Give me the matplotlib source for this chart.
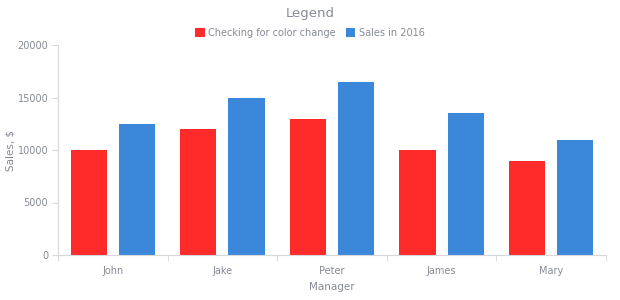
import matplotlib.pyplot as plt
import numpy as np

managers = ["John", "Jake", "Peter", "James", "Mary"]
checking = [10000, 12000, 13000, 10000, 9000]
sales_2016 = [12500, 15000, 16500, 13500, 11000]
series_names = ["Checking for color change", "Sales in 2016"]

red = "#ff2a2a"
blue = "#3b87d9"
text_col = "#868a96"
line_col = "#d6d8dc"

plt.rcParams["font.family"] = ["DejaVu Sans"]

fig = plt.figure(figsize=(6.2, 3.0), dpi=100)
ax = fig.add_axes([0.0935, 0.15, 0.884, 0.70])

x = np.arange(len(managers))
w = 0.33
ax.bar(x - 0.22, checking, w, color=red, label=series_names[0], zorder=2)
ax.bar(x + 0.22, sales_2016, w, color=blue, label=series_names[1], zorder=2)

ax.set_xlim(-0.5, len(managers) - 0.5)
ax.set_ylim(0, 20000)
ax.set_yticks([0, 5000, 10000, 15000, 20000])
ax.set_xticks(x)
ax.set_xticklabels(managers)
ax.set_xticks(np.arange(len(managers) + 1) - 0.5, minor=True)
ax.tick_params(axis="x", which="major", length=0, pad=8, labelsize=7, labelcolor=text_col)
ax.tick_params(axis="x", which="minor", length=4, color=line_col, direction="out")
ax.tick_params(axis="y", length=4, color=line_col, labelsize=7, labelcolor=text_col, pad=3)

for s in ["top", "right"]:
    ax.spines[s].set_visible(False)
for s in ["left", "bottom"]:
    ax.spines[s].set_color(line_col)
    ax.spines[s].set_linewidth(0.8)

ax.set_xlabel("Manager", fontsize=7.5, color=text_col, labelpad=4)
ax.set_ylabel("Sales, $", fontsize=7.5, color=text_col)
ax.yaxis.set_label_coords(-0.078, 0.5)

fig.text(0.5, 0.955, "Legend", ha="center", va="center", fontsize=9.5, color=text_col)
leg = fig.legend(loc="center", bbox_to_anchor=(0.5, 0.89), ncol=2, frameon=False,
                 fontsize=7, handlelength=1.0, handleheight=1.1, handletextpad=0.4,
                 columnspacing=1.0)
for t in leg.get_texts():
    t.set_color(text_col)

fig.savefig("out.png", dpi=100, facecolor="white")
